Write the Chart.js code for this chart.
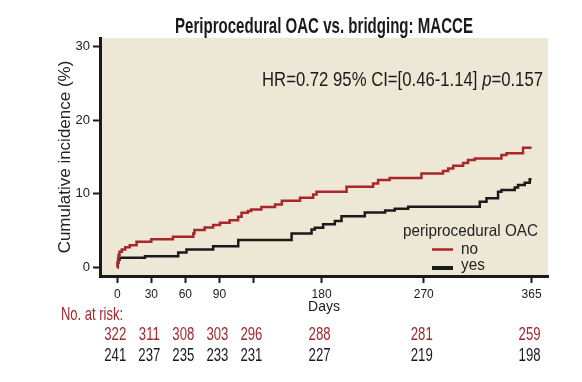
<!DOCTYPE html>
<html><head><meta charset="utf-8">
<script src="https://cdn.jsdelivr.net/npm/chart.js@4/dist/chart.umd.min.js"></script>
<style>html,body{margin:0;padding:0;background:#fff;}canvas{display:block;}</style>
</head><body>
<canvas id="c" width="582" height="382"></canvas>
<script>
// ---- data ----
const chartTitle = 'Periprocedural OAC vs. bridging: MACCE';
const xTicks = [0, 30, 60, 90, 120, 180, 270, 365];
const xTickLabels = ['0', '30', '60', '90', '', '180', '270', '365'];
const yTicks = [0, 10, 20, 30];

const noDays   = [0, 0.3, 0.7, 1.2, 2, 4, 7, 11, 17, 30, 49, 67, 68, 77, 84.5, 90.5, 99, 106.5, 109.5, 115, 118, 127, 139, 145, 161, 172.6, 175.6, 202, 225.4, 229.8, 240, 268, 287, 291.5, 296, 304.7, 309, 315, 338.5, 343, 357.5, 365];
const noValues = [0, 0.6, 1.2, 1.7, 2.1, 2.4, 2.7, 3.0, 3.45, 3.8, 4.15, 4.6, 5.05, 5.4, 5.75, 6.05, 6.4, 6.85, 7.4, 7.65, 7.86, 8.2, 8.55, 9.05, 9.45, 9.9, 10.27, 10.95, 11.4, 11.86, 12.15, 12.77, 13.1, 13.45, 13.8, 14.2, 14.6, 14.8, 15.27, 15.5, 16.27, 16.27];

const yesDays   = [0, 0.5, 1, 2, 24.4, 53.7, 61, 84.5, 106.6, 153.6, 171.2, 174.1, 181.4, 191.7, 197.6, 218.1, 236, 244.5, 256.3, 319.4, 325.3, 335.5, 338.5, 350.2, 353.1, 359, 363.4, 365];
const yesValues = [0, 0.6, 1.0, 1.3, 1.5, 2.0, 2.4, 2.86, 3.7, 4.6, 5.14, 5.36, 5.86, 6.3, 6.95, 7.45, 7.7, 7.95, 8.23, 8.9, 9.37, 10.27, 10.5, 10.86, 11.18, 11.5, 11.96, 11.96];

const riskDays = [0, 30, 60, 90, 120, 180, 270, 365];
const riskNo   = [322, 311, 308, 303, 296, 288, 281, 259];
const riskYes  = [241, 237, 235, 233, 231, 227, 219, 198];

// ---- styles ----
const SANS = "'Liberation Sans', Arial, Helvetica, sans-serif";
const RED = '#A8262C';
const RED_TEXT = '#9E2A2F';
const BLACK = '#1a1a1a';
const BEIGE = '#ECE8D5';

const toPts = (d, v) => d.map((x, i) => ({x: x, y: v[i]}));

// draw horizontally condensed text (the source uses a condensed face)
function condText(ctx, text, x, y, font, sx, align) {
  ctx.save();
  ctx.font = font;
  const w = ctx.measureText(text).width * sx;
  let x0 = x;
  if (align === 'center') x0 = x - w / 2;
  else if (align === 'right') x0 = x - w;
  ctx.translate(x0, y);
  ctx.scale(sx, 1);
  ctx.textAlign = 'left';
  ctx.textBaseline = 'alphabetic';
  ctx.fillText(text, 0, 0);
  ctx.restore();
  return w;
}
function fitScale(ctx, text, font, target) {
  ctx.save(); ctx.font = font;
  const w = ctx.measureText(text).width; ctx.restore();
  return target / w;
}

const bgPlugin = {
  id: 'bg',
  beforeDraw(chart) {
    const {ctx, chartArea: a} = chart;
    ctx.save();
    ctx.fillStyle = BEIGE;
    ctx.fillRect(a.left, a.top, a.right - a.left, a.bottom - a.top);
    ctx.restore();
  }
};

const textPlugin = {
  id: 'texts',
  afterDraw(chart) {
    const ctx = chart.ctx;
    const xs = chart.scales.x;
    const a = chart.chartArea;
    ctx.save();

    // title
    ctx.fillStyle = BLACK;
    const tFont = "bold 22px " + SANS;
    const tsx = fitScale(ctx, chartTitle, tFont, 298);
    condText(ctx, chartTitle, (a.left + a.right) / 2, 32.5, tFont, tsx, 'center');

    // HR annotation (right aligned)
    const normal = "20px " + SANS;
    const ital = "italic 20px " + SANS;
    const p1 = 'HR=0.72 95% CI=[0.46-1.14] ', p2 = 'p', p3 = '=0.157';
    ctx.font = normal; const w1 = ctx.measureText(p1).width, w3 = ctx.measureText(p3).width;
    ctx.font = ital; const w2 = ctx.measureText(p2).width;
    const hsx = 281 / (w1 + w2 + w3);
    let x = 543 - (w1 + w2 + w3) * hsx;
    const yb = 86;
    ctx.fillStyle = BLACK;
    x += condText(ctx, p1, x, yb, normal, hsx, 'left');
    x += condText(ctx, p2, x, yb, ital, hsx, 'left');
    condText(ctx, p3, x, yb, normal, hsx, 'left');

    // legend
    ctx.fillStyle = '#222';
    const lFont = "16.5px " + SANS;
    const lsx = fitScale(ctx, 'periprocedural OAC', lFont, 135);
    condText(ctx, 'periprocedural OAC', 403, 236, lFont, lsx, 'left');
    condText(ctx, 'no', 461, 254, lFont, lsx, 'left');
    condText(ctx, 'yes', 461, 270, lFont, lsx, 'left');
    ctx.lineCap = 'butt';
    ctx.strokeStyle = RED; ctx.lineWidth = 2.5;
    ctx.beginPath(); ctx.moveTo(432, 249.5); ctx.lineTo(453, 249.5); ctx.stroke();
    ctx.strokeStyle = BLACK; ctx.lineWidth = 4;
    ctx.beginPath(); ctx.moveTo(432, 268); ctx.lineTo(453, 268); ctx.stroke();

    // numbers at risk
    const rFont = "18px " + SANS;
    ctx.fillStyle = RED_TEXT;
    const rlsx = fitScale(ctx, 'No. at risk:', rFont, 62);
    condText(ctx, 'No. at risk:', 61, 320, rFont, rlsx, 'left');
    const nsx = fitScale(ctx, '322', rFont, 22);
    riskDays.forEach((d, i) => {
      const px = xs.getPixelForValue(d) - 2;
      ctx.fillStyle = RED_TEXT;
      condText(ctx, String(riskNo[i]), px, 340, rFont, nsx, 'center');
      ctx.fillStyle = BLACK;
      condText(ctx, String(riskYes[i]), px, 360.5, rFont, nsx, 'center');
    });
    ctx.restore();
  }
};

new Chart(document.getElementById('c'), {
  type: 'line',
  data: {
    datasets: [
      {label: 'no', data: toPts(noDays, noValues), borderColor: RED, borderWidth: 2.5, stepped: true, pointRadius: 0, fill: false},
      {label: 'yes', data: toPts(yesDays, yesValues), borderColor: BLACK, borderWidth: 2.5, stepped: true, pointRadius: 0, fill: false}
    ]
  },
  options: {
    responsive: false,
    animation: false,
    devicePixelRatio: 1,
    layout: {padding: {top: 38, left: 0, right: 34, bottom: 66}},
    plugins: {
      legend: {display: false},
      tooltip: {enabled: false},
      title: {display: false}
    },
    scales: {
      x: {
        type: 'linear', min: -15.2, max: 379.5,
        afterFit(s) { s.height = 40; },
        afterBuildTicks(s) { s.ticks = xTicks.map(v => ({value: v})); },
        ticks: {
          autoSkip: false, maxRotation: 0, padding: 4, color: BLACK,
          font: {family: SANS, size: 12},
          callback(v) { const i = xTicks.indexOf(v); return i >= 0 ? xTickLabels[i] : ''; }
        },
        grid: {drawOnChartArea: false, tickLength: 7, tickWidth: 2, tickColor: BLACK},
        border: {color: BLACK, width: 3},
        title: {display: true, text: 'Days', color: BLACK, font: {family: SANS, size: 14}, padding: {top: 0, bottom: 0}}
      },
      y: {
        min: -1.2, max: 31.2,
        afterFit(s) { s.width = 100; },
        afterBuildTicks(s) { s.ticks = yTicks.map(v => ({value: v})); },
        ticks: {padding: 3, color: BLACK, font: {family: SANS, size: 13}},
        grid: {drawOnChartArea: false, tickLength: 7, tickWidth: 2, tickColor: BLACK},
        border: {color: BLACK, width: 3},
        title: {display: true, text: 'Cumulative incidence (%)', color: '#222', font: {family: SANS, size: 17}, padding: {top: 55, bottom: 0}}
      }
    }
  },
  plugins: [bgPlugin, textPlugin]
});
</script>
</body></html>
